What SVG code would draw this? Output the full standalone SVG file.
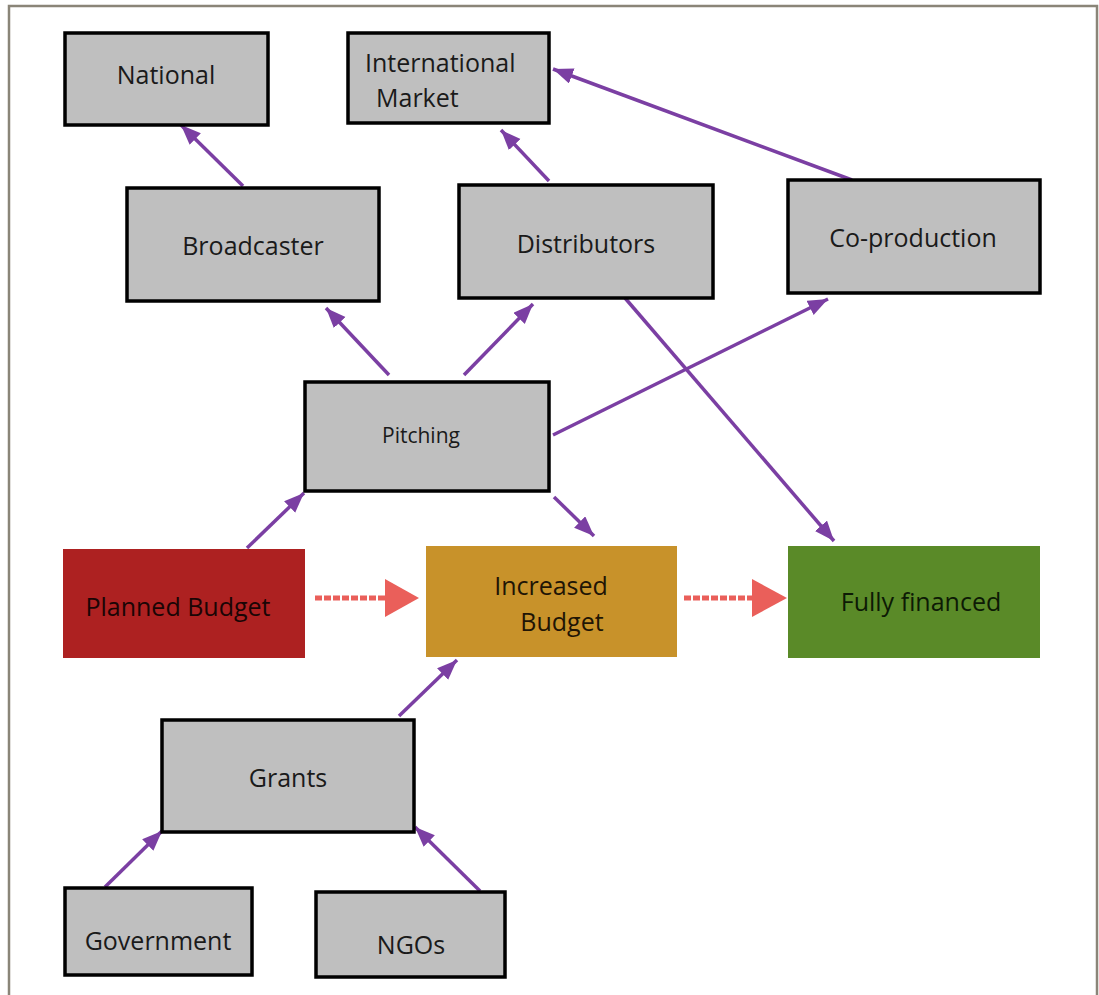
<svg xmlns="http://www.w3.org/2000/svg" width="1099" height="995" viewBox="0 0 1099 995">
<style>
.box{fill:#bfbfbf;stroke:#000;stroke-width:3.5}
.t{font-family:"Open Sans","Liberation Sans",sans-serif;font-size:25px;fill:#1a1a1a}
.c{stroke:#7b3fa3;stroke-width:3.5;fill:none;marker-end:url(#ah)}
.r{stroke:#ea5f5a;stroke-width:5;stroke-dasharray:7 2;fill:none}
</style>
<defs>
<marker id="ah" markerUnits="userSpaceOnUse" markerWidth="22" markerHeight="18" refX="20" refY="8" orient="auto">
<path d="M0,0 L20,8 L0,16 z" fill="#7b3fa3"/>
</marker>
</defs>
<rect x="9" y="6" width="1088" height="1000" fill="#fff" stroke="#8a8578" stroke-width="2.5"/>
<g id="connectors">
<line class="c" x1="243" y1="186" x2="181" y2="125"/>
<line class="c" x1="549" y1="181" x2="501" y2="130"/>
<line class="c" x1="852" y1="180" x2="553" y2="69"/>
<line class="c" x1="389" y1="375" x2="326" y2="308"/>
<line class="c" x1="464" y1="375" x2="533" y2="304"/>
<line class="c" x1="553" y1="435" x2="828" y2="299"/>
<line class="c" x1="554" y1="497" x2="594" y2="536"/>
<line class="c" x1="625" y1="298" x2="834" y2="541"/>
<line class="c" x1="247" y1="548" x2="304" y2="493"/>
<line class="c" x1="399" y1="716" x2="457" y2="660"/>
<line class="c" x1="105" y1="887" x2="162" y2="831"/>
<line class="c" x1="480" y1="891" x2="415" y2="827"/>
<line class="r" x1="315" y1="598" x2="390" y2="598"/>
<path d="M385,579 L419,598 L385,617 z" fill="#ea5f5a"/>
<line class="r" x1="684" y1="598" x2="756" y2="598"/>
<path d="M752,579 L787,598 L752,617 z" fill="#ea5f5a"/>
</g>
<g id="national"><rect class="box" x="65" y="33" width="203" height="92"/><text class="t" x="166" y="84" text-anchor="middle">National</text></g>
<g id="international"><rect class="box" x="348" y="33" width="201" height="90"/><text class="t" x="365" y="72">International</text><text class="t" x="376" y="107">Market</text></g>
<g id="broadcaster"><rect class="box" x="127" y="188" width="252" height="113"/><text class="t" x="253" y="255" text-anchor="middle">Broadcaster</text></g>
<g id="distributors"><rect class="box" x="459" y="185" width="254" height="113"/><text class="t" x="586" y="253" text-anchor="middle">Distributors</text></g>
<g id="coproduction"><rect class="box" x="788" y="180" width="252" height="113"/><text class="t" x="913" y="247" text-anchor="middle">Co-production</text></g>
<g id="pitching"><rect class="box" x="305" y="382" width="244" height="109"/><text class="t" x="421" y="443" text-anchor="middle" style="font-size:21px">Pitching</text></g>
<g id="planned"><rect x="63" y="549" width="242" height="109" fill="#ad2121"/><text class="t" x="178" y="616" text-anchor="middle" style="fill:#1a0505">Planned Budget</text></g>
<g id="increased"><rect x="426" y="546" width="251" height="111" fill="#c8922a"/><text class="t" x="551" y="595" text-anchor="middle" style="fill:#1f1505">Increased</text><text class="t" x="562" y="631" text-anchor="middle" style="fill:#1f1505">Budget</text></g>
<g id="fully"><rect x="788" y="546" width="252" height="112" fill="#5a8a28"/><text class="t" x="921" y="611" text-anchor="middle" style="fill:#0d1a05">Fully financed</text></g>
<g id="grants"><rect class="box" x="162" y="720" width="252" height="112"/><text class="t" x="288" y="787" text-anchor="middle">Grants</text></g>
<g id="government"><rect class="box" x="65" y="888" width="187" height="87"/><text class="t" x="158" y="950" text-anchor="middle">Government</text></g>
<g id="ngos"><rect class="box" x="316" y="892" width="189" height="85"/><text class="t" x="411" y="954" text-anchor="middle">NGOs</text></g>
</svg>
